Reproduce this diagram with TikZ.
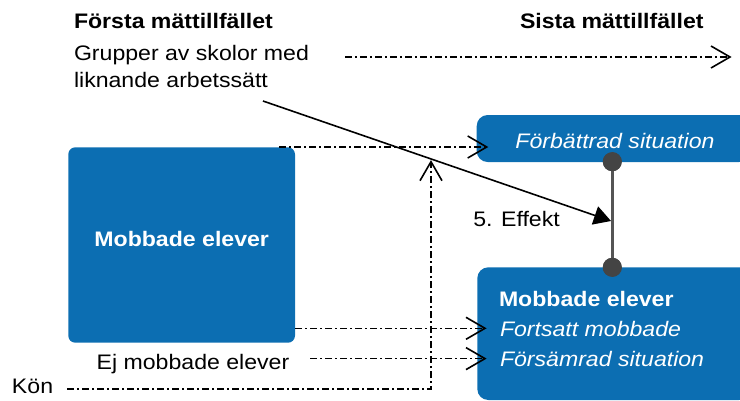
\documentclass[tikz,border=0pt]{standalone}
\usepackage{fontspec}
\setmainfont[FakeStretch=1.1]{Liberation Sans}
\usetikzlibrary{arrows.meta}
\definecolor{boxblue}{HTML}{0C6EB2}
\definecolor{linkgrey}{HTML}{555555}
\definecolor{dotgrey}{HTML}{444444}
\begin{document}
\begin{tikzpicture}[x=1pt,y=-1pt,
  every node/.style={inner sep=0pt, outer sep=0pt, font=\fontsize{21}{25}\selectfont},
  lbl/.style={anchor=base west},
  boxtext/.style={text=white},
  bluebox/.style={fill=boxblue, draw=none, rounded corners=#1},
  bluebox/.default=7pt,
  flow/.style={line width=1.5pt, dash pattern=on 7pt off 3pt on 2pt off 3pt},
  vhead/.pic={\draw[solid, line width=1.6pt, line join=miter] (-19,-11) -- (0,0) -- (-19,11);},
  effarrow/.style={line width=1.6pt, -{Triangle[length=17pt,width=19pt]}},
  link/.style={draw=linkgrey, line width=3pt},
  joint/.style={circle, fill=dotgrey, minimum size=19pt}
]
\clip (0,0) rectangle (740,400);

% headings
\node[lbl, font=\fontsize{21}{25}\selectfont\bfseries] (first) at (74,28.3) {Första mättillfället};
\node[lbl, font=\fontsize{21}{25}\selectfont\bfseries] (last) at (520,28.3) {Sista mättillfället};
\node[lbl] (grp1) at (74,60.5) {Grupper av skolor med};
\node[lbl] (grp2) at (74,87.5) {liknande arbetssätt};

% time axis
\coordinate (t0) at (345,57);
\coordinate (t1) at (730,57);
\draw[flow] (t0) -- (t1);
\pic at (t1) {vhead};

% boxes
\node[bluebox, minimum width=226.7pt, minimum height=195.4pt] (lbox) at (181.65,245) {};
\node[anchor=base, boxtext, font=\fontsize{21}{25}\selectfont\bfseries] (ltext) at (181.7,246.7) {Mobbade elever};

\node[bluebox=11pt, minimum width=273.3pt, minimum height=47pt] (tbox) at (613.35,138.5) {};
\node[anchor=base, boxtext, font=\fontsize{21}{25}\selectfont\itshape] (ttext) at (615,148) {Förbättrad situation};

\node[bluebox=11pt, minimum width=272.7pt, minimum height=132.7pt] (bbox) at (613.65,333.65) {};
\node[lbl, boxtext, font=\fontsize{21}{25}\selectfont\bfseries] (btext1) at (499,306.7) {Mobbade elever};
\node[lbl, boxtext, font=\fontsize{21}{25}\selectfont\itshape] (btext2) at (500,336.7) {Fortsatt mobbade};
\node[lbl, boxtext, font=\fontsize{21}{25}\selectfont\itshape] (btext3) at (500,366.7) {Försämrad situation};

% side labels
\node[lbl] (ej) at (96.7,369) {Ej mobbade elever};
\node[lbl] (kon) at (12,393) {Kön};
\node[lbl] (eff) at (473.3,226.7) {5. Effekt};

% flows between measurements
\coordinate (a0) at (279,147);
\coordinate (a1) at (486.7,147);
\draw[flow] (a0) -- (a1);
\pic at (a1) {vhead};

\coordinate (b0) at (295,328.3);
\coordinate (b1) at (485,328.3);
\draw[flow] (b0) -- (b1);
\pic at (b1) {vhead};

\coordinate (c0) at (310,358.6);
\coordinate (c1) at (485,358.6);
\draw[flow] (c0) -- (c1);
\pic at (c1) {vhead};

\coordinate (k0) at (67,389);
\coordinate (k1) at (431,389);
\coordinate (k2) at (431,161.7);
\draw[flow] (k0) -- (k1) -- (k2);
\pic[rotate=90] at (k2) {vhead};

% effect link
\node[joint] (j1) at (612.3,161.7) {};
\node[joint] (j2) at (612.3,267.3) {};
\draw[link] (j1) -- (j2);
\node[joint] at (j1) {};
\node[joint] at (j2) {};

\coordinate (s0) at (263,101);
\coordinate (s1) at (611,221);
\draw[effarrow] (s0) -- (s1);
\end{tikzpicture}
\end{document}
